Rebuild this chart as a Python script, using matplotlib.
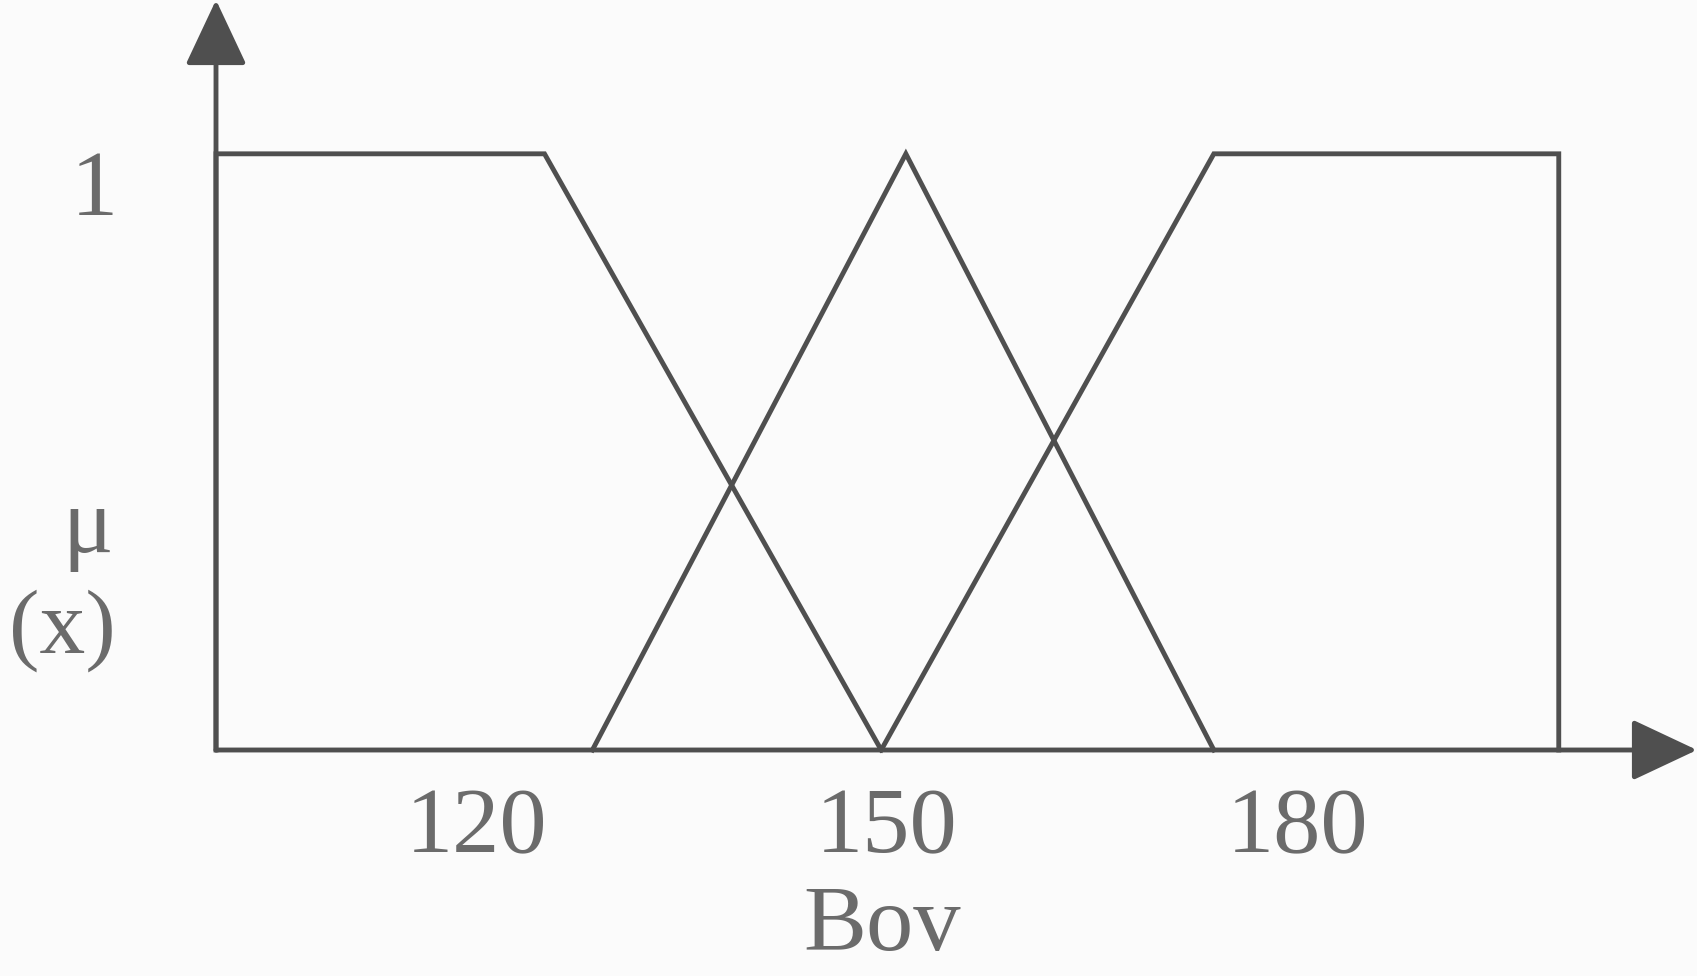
import matplotlib
matplotlib.use('Agg')
import matplotlib.pyplot as plt

plt.rcParams['font.family'] = 'serif'
plt.rcParams['font.serif'] = ['Liberation Serif', 'DejaVu Serif']

# membership functions (x in Bov units, mu in 0..1)
left_x = [101, 101, 125, 149.6]
left_mu = [0, 1, 1, 0]
mid_x = [128.5, 151.4, 173.9]
mid_mu = [0, 1, 0]
right_x = [149.6, 173.9, 199.1, 199.1]
right_mu = [0, 1, 1, 0]

tick_vals = [120, 150, 180]
tick_labels = ['120', '150', '180']

line_col = '#4f4f4f'
text_col = '#6b6b6b'
bg = '#fbfbfb'
fsize = 68

fig = plt.figure(figsize=(16.97, 9.76), dpi=100, facecolor=bg)
ax = fig.add_axes([216 / 1697, 226 / 976, 1481 / 1697, 750 / 976])
ax.set_facecolor(bg)
ax.set_xlim(101, 209.2)
ax.set_ylim(0, 1.258)

for xs, ys in [(left_x, left_mu), (mid_x, mid_mu), (right_x, right_mu)]:
    ax.plot(xs, ys, color=line_col, lw=3.5, solid_joinstyle='miter', clip_on=False)

# axes with arrowheads
x0, x1 = ax.get_xlim()
y0, y1 = ax.get_ylim()
arrow = dict(arrowstyle='-|>,head_length=1.0,head_width=0.47', mutation_scale=41,
             lw=3.5, color=line_col, shrinkA=0, shrinkB=0)
ax.annotate('', xy=(x1, 0), xytext=(x0, 0), arrowprops=arrow, annotation_clip=False)
ax.annotate('', xy=(x0, y1), xytext=(x0, 0), arrowprops=arrow, annotation_clip=False)

for s in ax.spines.values():
    s.set_visible(False)

ax.set_xticks(tick_vals)
ax.set_xticklabels(tick_labels, fontsize=fsize, color=text_col)
ax.tick_params(axis='x', length=0, pad=27)
ax.set_yticks([])

ax.set_xlabel('Bov', fontsize=fsize, color=text_col)
ax.xaxis.set_label_coords(0.4497, -0.18)

ax.annotate('1', xy=(x0, 1), xytext=(-71, -28), textcoords='offset points',
            ha='right', va='center', fontsize=fsize, color=text_col,
            annotation_clip=False)
# mu(x) label, two lines right-aligned left of the y axis
ax.annotate('μ', xy=(x0, 0), xytext=(-74, 159), textcoords='offset points',
            ha='right', va='center', fontsize=fsize, color=text_col,
            annotation_clip=False)
ax.annotate('(x)', xy=(x0, 0), xytext=(-72, 86), textcoords='offset points',
            ha='right', va='center', fontsize=fsize - 2, color=text_col,
            annotation_clip=False)

fig.savefig('out.png', dpi=100, facecolor=bg)
